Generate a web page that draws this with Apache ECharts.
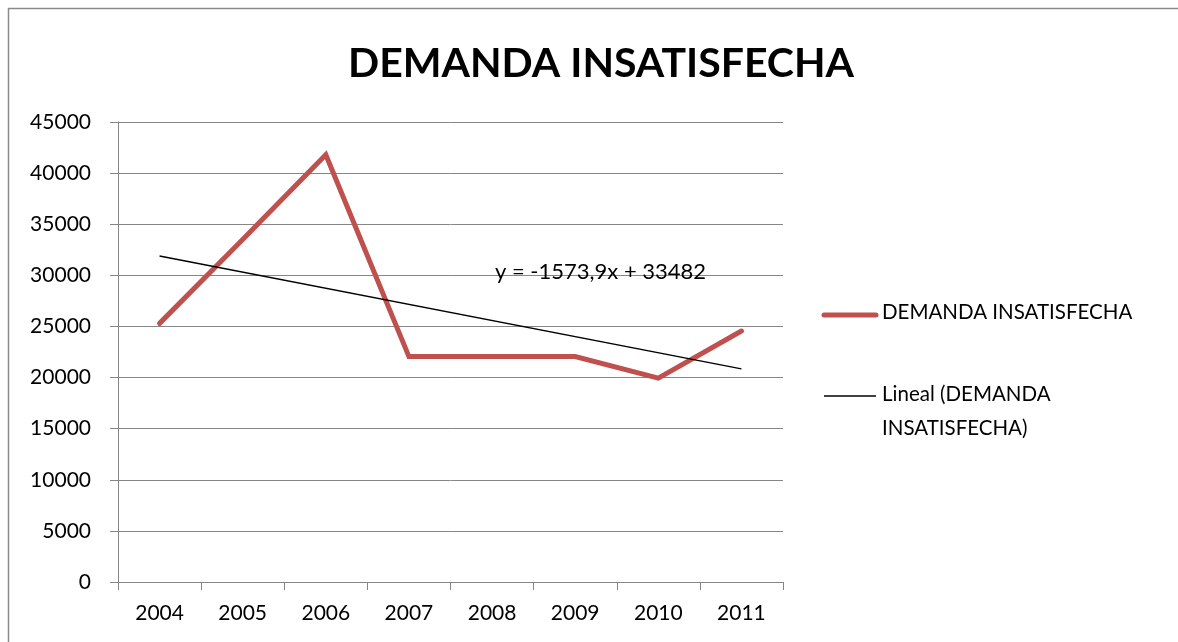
<!DOCTYPE html>
<html>
<head>
<meta charset="utf-8">
<script src="https://cdn.jsdelivr.net/npm/echarts@6/dist/echarts.min.js"></script>
<style>
	html, body { margin: 0; padding: 0; background: #fff; }
	#chart { width: 1178px; height: 642px; }
</style>
</head>
<body>
<div id="chart"></div>
<script>
	// data
	var years = ['2004', '2005', '2006', '2007', '2008', '2009', '2010', '2011'];
	var demanda = [25300, 33500, 41800, 22050, 22050, 22050, 19950, 24550];
	// linear trend line, drawn between its two ends
	var lineal = [31900, null, null, null, null, null, null, 20850];
	var yTicks = [0, 5000, 10000, 15000, 20000, 25000, 30000, 35000, 40000, 45000];

	var fontName = 'Lato, "Open Sans", sans-serif';
	var chart = echarts.init(document.getElementById('chart'));

	var option = {
		animation: false,
		backgroundColor: '#fff',
		title: {
			text: 'DEMANDA INSATISFECHA',
			left: 596,
			top: 38,
			textAlign: 'center',
			textStyle: { fontFamily: fontName, fontSize: 41, fontWeight: 'bold', color: '#000' }
		},
		grid: { left: 118, right: 395, top: 122, bottom: 60 },
		xAxis: {
			type: 'category',
			data: years,
			boundaryGap: true,
			axisLine: { lineStyle: { color: '#868686', width: 1 } },
			axisTick: { show: true, length: 8, lineStyle: { color: '#868686' } },
			axisLabel: { color: '#000', fontFamily: fontName, fontSize: 21, margin: 21 }
		},
		yAxis: {
			type: 'value',
			min: yTicks[0],
			max: yTicks[yTicks.length - 1],
			interval: 5000,
			axisLine: { show: true, lineStyle: { color: '#868686', width: 1 } },
			axisTick: { show: true, length: 8, lineStyle: { color: '#868686' } },
			axisLabel: {
				color: '#000', fontFamily: fontName, fontSize: 21, margin: 27,
				formatter: function (v) { return String(v); }
			},
			splitLine: { lineStyle: { color: '#868686', width: 1 } }
		},
		series: [{
			name: 'DEMANDA INSATISFECHA',
			type: 'line',
			data: demanda,
			symbol: 'none',
			lineStyle: { color: '#C0504D', width: 5, cap: 'round', join: 'miter' },
			z: 3
		}, {
			name: 'Lineal (DEMANDA INSATISFECHA)',
			type: 'line',
			data: lineal,
			connectNulls: true,
			symbol: 'none',
			lineStyle: { color: '#000', width: 1.5 },
			z: 4
		}],
		graphic: [
			// outer frame
			{
				type: 'rect',
				shape: { x: 8.5, y: 8.5, width: 1200, height: 700 },
				style: { fill: 'none', stroke: '#8a8a8a', lineWidth: 1.5 },
				silent: true
			},
			// trend equation
			{
				type: 'text',
				left: 495,
				top: 261,
				style: { text: 'y = -1573,9x + 33482', fontFamily: fontName, fontSize: 22, fill: '#000' },
				z: 10
			},
			// legend
			{
				type: 'line',
				shape: { x1: 824, y1: 315, x2: 876, y2: 315 },
				style: { stroke: '#C0504D', lineWidth: 5, lineCap: 'round' }
			},
			{
				type: 'text',
				left: 882,
				top: 302,
				style: { text: 'DEMANDA INSATISFECHA', fontFamily: fontName, fontSize: 20.5, fill: '#000' }
			},
			{
				type: 'line',
				shape: { x1: 824, y1: 396, x2: 876, y2: 396 },
				style: { stroke: '#000', lineWidth: 1.5 }
			},
			{
				type: 'text',
				left: 882,
				top: 377,
				style: { text: 'Lineal (DEMANDA\nINSATISFECHA)', fontFamily: fontName, fontSize: 20.5, lineHeight: 34, fill: '#000' }
			}
		]
	};

	chart.setOption(option);
</script>
</body>
</html>
